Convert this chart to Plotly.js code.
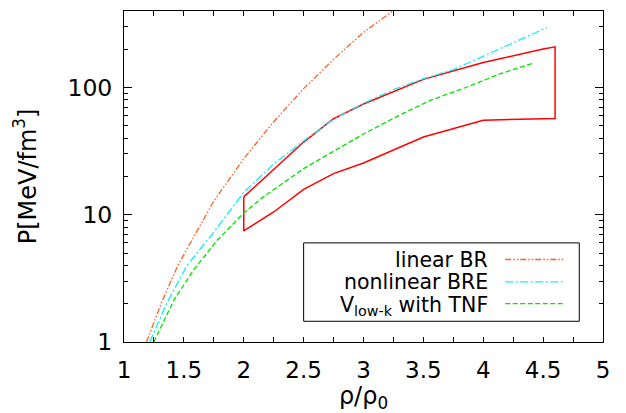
<!DOCTYPE html>
<html>
<head>
<meta charset="utf-8">
<script src="https://cdn.plot.ly/plotly-3.0.1.min.js"></script>
<style>html,body{margin:0;padding:0;background:#fff;}#chart{width:626px;height:413px;}</style>
</head>
<body>
<div id="chart"></div>
<script>
// --- data ---
const linearBR_x = [1.188, 1.31, 1.45, 1.6, 1.75, 2.0, 2.25, 2.5, 2.75, 3.0, 3.3];
const linearBR_y = [1.0, 2.0, 4.0, 7.2, 12.8, 27.5, 53.7, 97.7, 166, 270, 435];

const nonlinBRE_x = [1.215, 1.355, 1.527, 1.75, 2.0, 2.25, 2.5, 2.75, 3.0, 3.25, 3.5, 3.75, 3.865, 4.143, 4.532];
const nonlinBRE_y = [1.0, 2.0, 4.0, 7.3, 15.0, 25, 38, 56, 75, 96, 117, 138, 154, 202, 295];

const vlowk_x = [1.249, 1.416, 1.583, 1.778, 2.0, 2.164, 2.5, 3.0, 3.308, 3.558, 3.865, 4.143, 4.421];
const vlowk_y = [1.0, 2.13, 3.7, 6.3, 10.3, 13.8, 23, 43, 61, 79, 100.7, 128, 155.6];

const band_x = [2, 2, 2.25, 2.5, 2.75, 3, 3.5, 4, 4.6, 4.6, 4.5, 4, 3.5, 3, 2.75, 2.5, 2];
const band_y = [13.8, 7.45, 10.5, 15.8, 21.0, 25.5, 40.7, 55.2, 57.0, 208, 200, 157, 115.6, 74, 56.7, 37.2, 13.8];

const xTickVals = [1, 1.5, 2, 2.5, 3, 3.5, 4, 4.5, 5];
const yTickVals = [1, 10, 100];
const yTickText = ['1', '10', '100'];
const yMinorVals = [2,3,4,5,6,7,8,9,20,30,40,50,60,70,80,90,200,300];

const legendNames = ['linear BR', 'nonlinear BRE', 'V<sub>low-k</sub> with TNF'];

// --- styles ---
const cOrange = '#ff6020', cCyan = '#11eeff', cGreen = '#00e400', cRed = '#ff0000';
const dOrange = '6px,2px,1.5px,2px,1.5px,2px';
const dCyan = '8px,2.5px,2px,2.5px';
const dGreen = '5px,2.5px';
const FONT = 'DejaVu Sans, Liberation Sans, Arial, sans-serif';

const traces = [
  {x: band_x, y: band_y, mode: 'lines', line: {color: cRed, width: 1.5}, showlegend: false, name: 'band'},
  {x: linearBR_x, y: linearBR_y, mode: 'lines', line: {color: cOrange, width: 1.3, dash: dOrange}, name: legendNames[0], showlegend: false},
  {x: nonlinBRE_x, y: nonlinBRE_y, mode: 'lines', line: {color: cCyan, width: 1.3, dash: dCyan}, name: legendNames[1], showlegend: false},
  {x: vlowk_x, y: vlowk_y, mode: 'lines', line: {color: cGreen, width: 1.3, dash: dGreen}, name: legendNames[2], showlegend: false}
];

// legend geometry (paper coords)
const legBox = {x0: 0.375, x1: 0.9505, y0: 0.0626, y1: 0.2994};
const legRowsY = [0.2492, 0.1814, 0.1161];
const legTextX = 0.7648, legLineX0 = 0.796, legLineX1 = 0.921;
const legColors = [cOrange, cCyan, cGreen];
const legDashes = [dOrange, dCyan, dGreen];

const shapes = [{type: 'rect', xref: 'paper', yref: 'paper', x0: legBox.x0, x1: legBox.x1, y0: legBox.y0, y1: legBox.y1,
  line: {color: '#000', width: 1}, fillcolor: 'rgba(255,255,255,0)', layer: 'above'}];
const annotations = [];
legendNames.forEach((n, i) => {
  shapes.push({type: 'line', xref: 'paper', yref: 'paper', x0: legLineX0, x1: legLineX1, y0: legRowsY[i], y1: legRowsY[i],
    line: {color: legColors[i], width: 1.3, dash: legDashes[i]}, layer: 'above'});
  annotations.push({xref: 'paper', yref: 'paper', x: legTextX, y: legRowsY[i], xanchor: 'right', yanchor: 'middle',
    text: n, showarrow: false, font: {family: FONT, size: 20.5, color: '#000'}, yshift: (i === 2 ? -2 : 0)});
});

const layout = {
  width: 626, height: 413,
  margin: {l: 124, r: 23, t: 11, b: 71},
  paper_bgcolor: '#fff', plot_bgcolor: '#fff',
  showlegend: false,
  font: {family: FONT, size: 23, color: '#000'},
  xaxis: {
    range: [1, 5], tickmode: 'array', tickvals: xTickVals, ticktext: xTickVals.map(String),
    ticks: 'inside', ticklen: 5, tickwidth: 1, tickcolor: '#000', ticklabelstandoff: 7,
    minor: {dtick: 0.25, tick0: 1, ticks: 'inside', ticklen: 5, tickwidth: 1, tickcolor: '#000', showgrid: false},
    showline: true, linecolor: '#000', linewidth: 1, mirror: 'allticks',
    showgrid: false, zeroline: false, automargin: false,
    tickfont: {family: FONT, size: 23, color: '#000'},
    title: {text: 'ρ/ρ<sub>0</sub>', font: {family: FONT, size: 24, color: '#000'}, standoff: 10}
  },
  yaxis: {
    type: 'log', range: [0, Math.log10(398)],
    tickmode: 'array', tickvals: yTickVals, ticktext: yTickText,
    ticks: 'inside', ticklen: 8, tickwidth: 1, tickcolor: '#000', ticklabelstandoff: 6,
    minor: {tickmode: 'array', tickvals: yMinorVals, ticks: 'inside', ticklen: 4, tickwidth: 1, tickcolor: '#000', showgrid: false},
    showline: true, linecolor: '#000', linewidth: 1, mirror: 'allticks',
    showgrid: false, zeroline: false, automargin: false,
    tickfont: {family: FONT, size: 23.5, color: '#000'},
    title: {text: 'P[MeV/fm<sup>3</sup>]', font: {family: FONT, size: 24, color: '#000'}, standoff: 24}
  },
  shapes: shapes,
  annotations: annotations
};

Plotly.newPlot('chart', traces, layout, {displayModeBar: false, staticPlot: true});
</script>
</body>
</html>
